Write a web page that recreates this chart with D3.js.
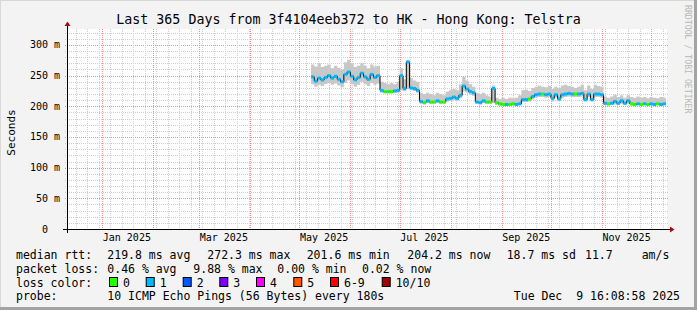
<!DOCTYPE html>
<html>
<head>
<meta charset="utf-8">
<script src="https://cdn.jsdelivr.net/npm/d3@7"></script>
<style>
  html, body { margin: 0; padding: 0; background: #f3f3f3; }
  svg { display: block; }
  text { font-family: "DejaVu Sans Mono", monospace; white-space: pre; fill: #000; }
</style>
</head>
<body>
<div id="chart"></div>
<script>
// ---- data ----
const title = "Last 365 Days from 3f4104eeb372 to HK - Hong Kong: Telstra";
const rangeStart = new Date(Date.UTC(2024, 11, 10, 14));
const rangeEnd = new Date(Date.UTC(2025, 11, 10, 14));
const firstSample = new Date(Date.UTC(2025, 4, 8));
const stepDays = 2;

// median rtt (ms), one value per 2 days from May 8 2025
const median = [
  248,241,246,243,247,250,246,249,244,240,252,256,249,243,247,254,248,244,252,247,250,
  226,224,224,224,225,226,250,229,272,230,229,226,
  208,206,209,207,207,209,207,207,212,213,215,213,218,233,228,224,222,
  207,206,209,207,207,229,206,204,203,203,203,204,203,204,211,211,212,216,
  219,220,220,219,220,213,219,212,219,220,221,220,220,220,221,211,220,211,220,220,219,
  205,204,205,208,205,209,205,209,204,203,204,203,204,203,204,203,204,203,204
];
const smokeHi = [
  268,265,270,264,266,268,262,266,263,260,272,276,270,264,266,270,266,262,268,265,266,
  240,238,236,238,236,240,262,244,276,246,242,240,
  222,220,222,220,218,222,220,218,224,226,228,226,236,248,242,236,232,
  222,220,222,218,216,234,214,212,214,212,214,213,214,218,226,227,225,230,
  232,234,232,231,233,228,232,230,234,235,233,232,230,232,235,226,234,228,235,233,232,
  216,214,216,219,215,218,214,218,215,214,216,214,215,213,215,214,213,215,214
];
const smokeLo = [
  236,232,235,233,236,238,235,237,234,231,238,242,236,232,235,240,236,233,238,235,237,
  222,221,221,221,222,222,226,225,228,226,225,222,
  204,203,205,204,204,205,204,204,208,209,210,209,213,224,222,219,217,
  204,203,205,204,204,205,202,201,201,201,201,202,201,202,207,207,208,211,
  214,215,215,214,215,208,214,209,214,215,216,215,215,215,216,208,215,208,215,215,214,
  202,201,202,203,202,204,202,204,201,201,202,201,202,201,202,201,202,201,202
];
// loss bucket index per sample (into lossColors)
const lossBucket = [
  1,1,1,1,1,1,1,1,1,1,1,1,1,1,1,1,1,1,1,1,1,
  1,0,0,0,1,1,1,1,1,1,1,1,
  1,0,1,0,0,1,0,0,1,1,1,1,1,1,1,1,1,
  1,1,1,0,0,1,0,0,0,1,0,0,1,1,1,1,0,1,
  1,1,0,1,1,1,1,1,1,1,1,1,0,1,1,1,1,1,1,1,1,
  1,0,1,1,1,1,1,1,0,0,1,0,1,0,1,1,0,1,1
];

const lossLabels = ["0", "1", "2", "3", "4", "5", "6-9", "10/10"];
const lossColors = ["#26ff00", "#00b8ff", "#0059ff", "#7e00ff", "#ff00ff", "#ff5500", "#ff0000", "#a10000"];

const yTicks = [0, 50, 100, 150, 200, 250, 300];
const yTickLabels = ["0  ", "50 m", "100 m", "150 m", "200 m", "250 m", "300 m"];
const xLabelMonths = [new Date(Date.UTC(2025,0,1)), new Date(Date.UTC(2025,2,1)), new Date(Date.UTC(2025,4,1)),
                      new Date(Date.UTC(2025,6,1)), new Date(Date.UTC(2025,8,1)), new Date(Date.UTC(2025,10,1))];
const xTickLabels = ["Jan 2025", "Mar 2025", "May 2025", "Jul 2025", "Sep 2025", "Nov 2025"];

const rttStats = ["219.8 ms avg", "272.3 ms max", "201.6 ms min", "204.2 ms now", "18.7 ms sd", "11.7", "am/s"];
const lossStats = ["0.46 % avg", "9.88 % max", "0.00 % min", "0.02 % now"];
const probeText = "10 ICMP Echo Pings (56 Bytes) every 180s";
const stampText = "Tue Dec  9 16:08:58 2025";

// ---- layout ----
const W = 697, H = 310;
const X0 = 67, X1 = 667, Y0 = 229, Y1 = 29;
const rttX = [107.3, 207.3, 306.7, 407.3, 506.7, 585, 641.7];
const lossX = [107.3, 193.3, 277.3, 362];
const boxX = [109, 145.7, 182.7, 219.3, 256, 293.3, 330, 381.7];

const svg = d3.select("#chart").append("svg")
  .attr("width", W)
  .attr("height", H);

svg.append("rect").attr("width", W).attr("height", H).attr("fill", "#f3f3f3");
// 3d frame
svg.append("rect").attr("x", 0).attr("y", 0).attr("width", W).attr("height", 1).attr("fill", "#d8d8d8");
svg.append("rect").attr("x", 0).attr("y", 0).attr("width", 1).attr("height", H).attr("fill", "#d8d8d8");
svg.append("rect").attr("x", W - 3).attr("y", 0).attr("width", 3).attr("height", H).attr("fill", "#a3a3a3");
svg.append("rect").attr("x", 0).attr("y", H - 3).attr("width", W).attr("height", 3).attr("fill", "#a3a3a3");

svg.append("rect")
  .attr("x", X0).attr("y", Y1)
  .attr("width", X1 - X0).attr("height", Y0 - Y1)
  .attr("fill", "#ffffff");

const x = d3.scaleUtc().domain([rangeStart, rangeEnd]).range([X0, X1]);
const y = d3.scaleLinear().domain([0, 326]).range([Y0, Y1]);

// ---- grid ----
const grid = svg.append("g").attr("shape-rendering", "crispEdges");
const minorY = d3.range(10, 330, 10).filter(v => v % 50 !== 0);
grid.selectAll(".hmin").data(minorY).enter().append("line")
  .attr("x1", X0 - 2).attr("x2", X1 + 1)
  .attr("y1", d => Math.round(y(d)) + 0.5).attr("y2", d => Math.round(y(d)) + 0.5)
  .attr("stroke", "#cfcfcf").attr("stroke-dasharray", "1,1");
grid.selectAll(".hmaj").data(yTicks.slice(1)).enter().append("line")
  .attr("x1", X0 - 2).attr("x2", X1 + 1)
  .attr("y1", d => Math.round(y(d)) + 0.5).attr("y2", d => Math.round(y(d)) + 0.5)
  .attr("stroke", "#f09090").attr("stroke-dasharray", "1,1");

const weeks = d3.utcMonday.range(rangeStart, rangeEnd);
grid.selectAll(".vmin").data(weeks).enter().append("line")
  .attr("x1", d => Math.round(x(d)) + 0.5).attr("x2", d => Math.round(x(d)) + 0.5)
  .attr("y1", Y1).attr("y2", Y0 + 2)
  .attr("stroke", "#cfcfcf").attr("stroke-dasharray", "1,1");
const months = d3.utcMonth.range(rangeStart, rangeEnd);
grid.selectAll(".vmaj").data(months).enter().append("line")
  .attr("x1", d => Math.round(x(d)) + 0.5).attr("x2", d => Math.round(x(d)) + 0.5)
  .attr("y1", Y1).attr("y2", Y0 + 2)
  .attr("stroke", "#f09090").attr("stroke-dasharray", "1,1");

// ---- smoke + median ----
const samples = median.map((m, i) => ({
  t: d3.utcDay.offset(firstSample, i * stepDays),
  t2: d3.utcDay.offset(firstSample, (i + 1) * stepDays),
  m: m, lo: smokeLo[i], hi: smokeHi[i], loss: lossBucket[i]
}));
const last = samples[samples.length - 1];
const stepped = samples.concat([{ t: last.t2, m: last.m, lo: last.lo, hi: last.hi }]);

svg.append("path")
  .datum(stepped)
  .attr("fill", "#c8c8c8")
  .attr("d", d3.area().curve(d3.curveStepAfter)
    .x(d => x(d.t)).y0(d => y(d.lo)).y1(d => y(d.hi)));

svg.append("path")
  .datum(stepped)
  .attr("fill", "none")
  .attr("stroke", "#000")
  .attr("stroke-width", 1)
  .attr("d", d3.line().curve(d3.curveStepAfter).x(d => x(d.t)).y(d => y(d.m)));

const seg = d3.line().x(d => x(d[0])).y(d => y(d[1]));
svg.selectAll(".lossSeg").data(samples).enter().append("path")
  .attr("fill", "none")
  .attr("stroke", d => lossColors[d.loss])
  .attr("stroke-width", 3)
  .attr("d", d => seg([[d.t, d.m], [d.t2, d.m]]));

// ---- axes ----
svg.append("line").attr("x1", X0 - 4).attr("x2", X1 + 4).attr("y1", Y0 + 0.5).attr("y2", Y0 + 0.5)
  .attr("stroke", "#000").attr("shape-rendering", "crispEdges");
svg.append("line").attr("x1", X0 + 0.5).attr("x2", X0 + 0.5).attr("y1", Y0 + 4).attr("y2", Y1 - 4)
  .attr("stroke", "#000").attr("shape-rendering", "crispEdges");
svg.append("path").attr("d", `M${X1 + 3},${Y0 - 2.5}L${X1 + 7.5},${Y0 + 0.5}L${X1 + 3},${Y0 + 3.5}Z`).attr("fill", "#a01010");
svg.append("path").attr("d", `M${X0 - 2.5},${Y1 - 3}L${X0 + 0.5},${Y1 - 7.5}L${X0 + 3.5},${Y1 - 3}Z`).attr("fill", "#a01010");

svg.selectAll(".ylab").data(yTicks).enter().append("text")
  .attr("x", 60).attr("y", d => y(d) + 3.5)
  .attr("text-anchor", "end")
  .attr("font-size", "10px")
  .text((d, i) => yTickLabels[i]);

svg.selectAll(".xlab").data(xLabelMonths).enter().append("text")
  .attr("x", d => x(d3.utcDay.offset(d, 15)))
  .attr("y", 241)
  .attr("text-anchor", "middle")
  .attr("font-size", "10px")
  .text((d, i) => xTickLabels[i]);

svg.append("text")
  .attr("transform", "translate(14.5,132.5) rotate(-90)")
  .attr("text-anchor", "middle")
  .attr("font-size", "11px")
  .text("Seconds");

svg.append("text")
  .attr("x", W / 2).attr("y", 24)
  .attr("text-anchor", "middle")
  .attr("font-size", "13.3px")
  .text(title);

svg.append("text")
  .attr("transform", "translate(684.5,5) rotate(90)")
  .attr("font-size", "8.2px")
  .style("fill", "#b8b8b8")
  .text("RRDTOOL / TOBI OETIKER");

// ---- legend ----
const lg = svg.append("g").attr("font-size", "11.5px");
lg.append("text").attr("x", 16).attr("y", 258.5).text("median rtt:");
lg.selectAll(".rtt").data(rttStats).enter().append("text")
  .attr("x", (d, i) => rttX[i]).attr("y", 258.5).text(d => d);
lg.append("text").attr("x", 16).attr("y", 272.5).text("packet loss:");
lg.selectAll(".pl").data(lossStats).enter().append("text")
  .attr("x", (d, i) => lossX[i]).attr("y", 272.5).text(d => d);
lg.append("text").attr("x", 16).attr("y", 286.5).text("loss color:");
lg.selectAll(".box").data(lossColors).enter().append("rect")
  .attr("x", (d, i) => boxX[i] + 0.5).attr("y", 277.5)
  .attr("width", 8).attr("height", 9)
  .attr("fill", d => d).attr("stroke", "#000");
lg.selectAll(".boxlab").data(lossLabels).enter().append("text")
  .attr("x", (d, i) => boxX[i] + 14).attr("y", 286.5).text(d => d);
lg.append("text").attr("x", 16).attr("y", 300).text("probe:");
lg.append("text").attr("x", 107.3).attr("y", 300).text(probeText);
lg.append("text").attr("x", 680).attr("y", 300).attr("text-anchor", "end").text(stampText);
</script>
</body>
</html>
